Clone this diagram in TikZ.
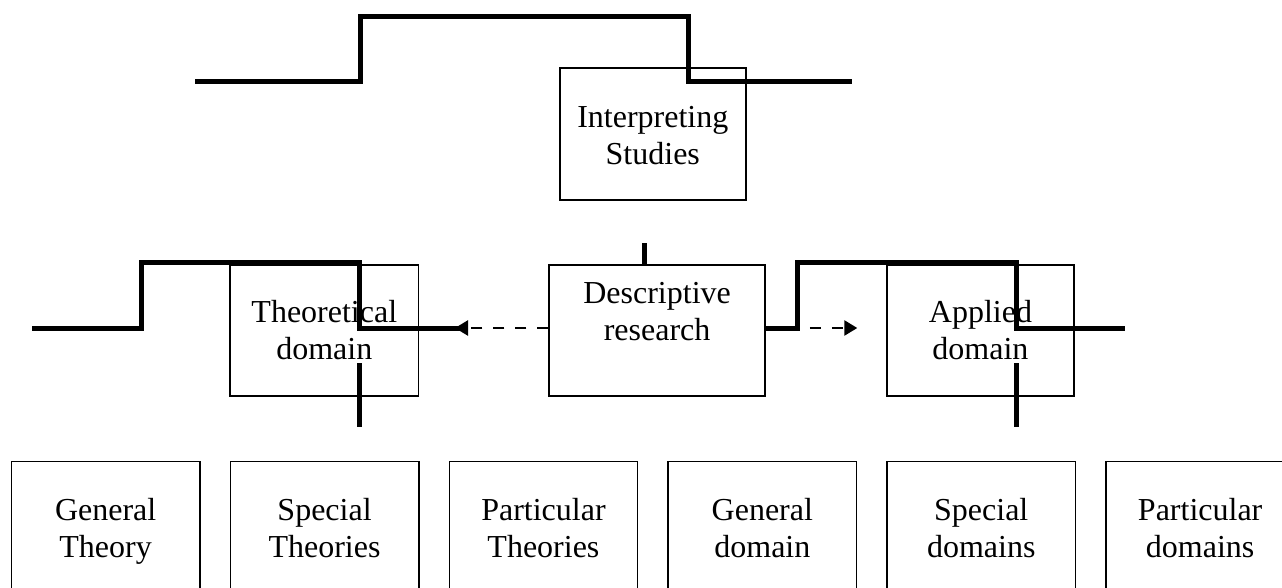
\documentclass[tikz,border=0pt]{standalone}
\usepackage{fontspec}
\setmainfont{Liberation Serif}
\usetikzlibrary{arrows.meta}
% #1 height, #2 width, #3 offset of first baseline from top, #4 text
\newcommand\boxtxt[4]{\parbox[c][#1][t]{#2}{\centering\rule{0pt}{#3}#4}}
\begin{document}
\begin{tikzpicture}[x=1pt,y=-1pt,
  font=\fontsize{32}{36.7}\selectfont,
  box/.style={draw, line width=1.6pt, inner sep=0pt, anchor=north west},
  heavyline/.style={line width=5pt, line join=miter},
  dasharrow/.style={line width=2.5pt, dash pattern=on 11pt off 11pt,
    -{Triangle[length=13pt,width=15pt]}}]
\clip (0,0) rectangle (1282,587);
\fill[white] (0,0) rectangle (1282,587);

% boxes
\node[box] (interp) at (559,67)    {\boxtxt{132pt}{186pt}{59.7pt}{Interpreting\\Studies}};
\node[box] (theo)   at (229.3,264) {\boxtxt{131pt}{188.4pt}{57.7pt}{Theoretical\\domain}};
\node[box] (desc)   at (548.3,264) {\boxtxt{131pt}{216pt}{38.5pt}{Descriptive\\research}};
\node[box] (appl)   at (886,264)   {\boxtxt{131pt}{187.3pt}{57.7pt}{Applied\\domain}};

\node[box] (b1) at (10.7,460.7)   {\boxtxt{140pt}{188.3pt}{59.3pt}{General\\Theory}};
\node[box] (b2) at (229.6,460.7)  {\boxtxt{140pt}{188.3pt}{59.3pt}{Special\\Theories}};
\node[box] (b3) at (448.5,460.7)  {\boxtxt{140pt}{188.3pt}{59.3pt}{Particular\\Theories}};
\node[box] (b4) at (667.4,460.7)  {\boxtxt{140pt}{188.3pt}{59.3pt}{General\\domain}};
\node[box] (b5) at (886.3,460.7)  {\boxtxt{140pt}{188.3pt}{59.3pt}{Special\\domains}};
\node[box] (b6) at (1105.2,460.7) {\boxtxt{140pt}{188.3pt}{59.3pt}{Particular\\domains}};

% coordinates of the stepped lines
\coordinate (t1) at (195,81);   \coordinate (t2) at (360,16);
\coordinate (t3) at (688,81);   \coordinate (t4) at (852,81);
\coordinate (l1) at (32,328);   \coordinate (l2) at (141,262.5);
\coordinate (l3) at (359.5,328); \coordinate (l4) at (465,328);
\coordinate (r2) at (797,262.5); \coordinate (r3) at (1016,328);
\coordinate (r4) at (1125,328);
\coordinate (aL) at (455,328);  \coordinate (aR) at (857.3,328);
\coordinate (v1a) at (359.5,363); \coordinate (v1b) at (359.5,427);
\coordinate (v2a) at (1016,363);  \coordinate (v2b) at (1016,427);
\coordinate (tk) at (644.3,243);

% dashed arrows
\draw[dasharrow] (desc.west |- aL) -- (aL);
\draw[dasharrow] (desc.east |- aR) -- (aR);

% heavy stepped lines
\draw[heavyline] (t1) -| (t2) -| (t3) -- (t4);
\draw[heavyline] (l1) -| (l2) -| (l3) -- (l4);
\draw[heavyline] (desc.east |- r3) -| (r2) -| (r3) -- (r4);
\draw[heavyline] (v1a) -- (v1b);
\draw[heavyline] (v2a) -- (v2b);
\draw[heavyline] (tk) -- (tk |- desc.north);
\end{tikzpicture}
\end{document}
